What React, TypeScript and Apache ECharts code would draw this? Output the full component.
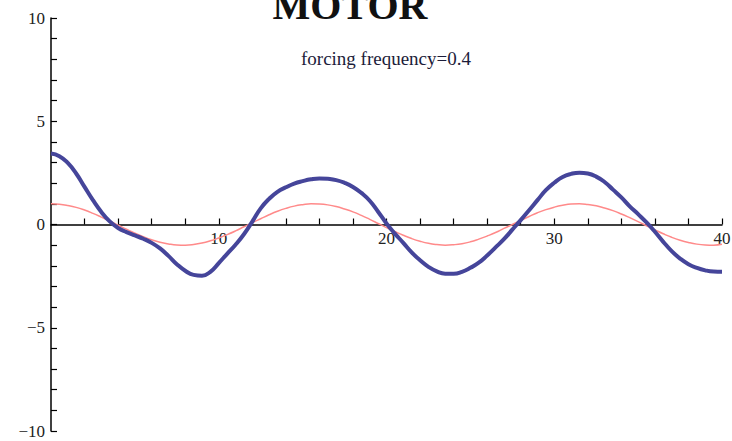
import React, { useEffect, useRef } from "react";
import * as echarts from "echarts";

const xValues = [0,0.5,1,1.5,2,2.5,3,3.5,4,4.5,5,5.5,6,6.5,7,7.5,8,8.5,9,9.5,10,10.5,11,11.5,12,12.5,13,13.5,14,14.5,15,15.5,16,16.5,17,17.5,18,18.5,19,19.5,20,20.5,21,21.5,22,22.5,23,23.5,24,24.5,25,25.5,26,26.5,27,27.5,28,28.5,29,29.5,30,30.5,31,31.5,32,32.5,33,33.5,34,34.5,35,35.5,36,36.5,37,37.5,38,38.5,39,39.5,40];
const motorResponse = [3.44,3.31,2.98,2.47,1.82,1.18,0.61,0.15,-0.17,-0.37,-0.53,-0.69,-0.89,-1.16,-1.52,-1.92,-2.24,-2.44,-2.48,-2.29,-1.87,-1.42,-0.98,-0.47,0.14,0.78,1.24,1.58,1.8,1.98,2.1,2.19,2.23,2.21,2.15,2.02,1.82,1.53,1.15,0.62,0.05,-0.44,-0.89,-1.35,-1.73,-2.05,-2.27,-2.38,-2.38,-2.29,-2.1,-1.85,-1.5,-1.11,-0.71,-0.25,0.21,0.69,1.18,1.66,2.02,2.3,2.45,2.51,2.47,2.32,2.06,1.69,1.31,0.88,0.5,0.1,-0.35,-0.84,-1.29,-1.65,-1.92,-2.1,-2.22,-2.28,-2.29];
const forcing = [1.0,0.98,0.92,0.83,0.7,0.54,0.36,0.17,-0.03,-0.23,-0.42,-0.59,-0.74,-0.86,-0.94,-0.99,-1.0,-0.97,-0.9,-0.79,-0.65,-0.49,-0.31,-0.11,0.09,0.28,0.47,0.64,0.78,0.89,0.96,1.0,0.99,0.95,0.87,0.75,0.61,0.44,0.25,0.05,-0.15,-0.34,-0.52,-0.68,-0.81,-0.91,-0.97,-1.0,-0.98,-0.93,-0.84,-0.71,-0.56,-0.39,-0.19,0.0,0.2,0.39,0.57,0.72,0.84,0.93,0.99,1.0,0.97,0.91,0.8,0.67,0.51,0.33,0.14,-0.06,-0.26,-0.45,-0.62,-0.76,-0.87,-0.95,-0.99,-1.0,-0.96];
const xTickLabels = ["10", "20", "30", "40"];
const yTickLabels = ["−10", "−5", "0", "5", "10"];
const titleText = "MOTOR";
const subtitleText = "forcing frequency=0.4";

export default function App() {
  const ref = useRef<HTMLDivElement>(null);
  useEffect(() => {
    if (!ref.current) return;
    const chart = echarts.init(ref.current, null, { renderer: "svg" });
    const serif = '"Liberation Serif", "DejaVu Serif", serif';
    chart.setOption({
      animation: false,
      backgroundColor: "#ffffff",
      grid: { left: 51, right: 10, top: 18, bottom: 10, containLabel: false, outerBoundsMode: "none" },
      xAxis: {
        type: "value",
        min: 0,
        max: 40,
        interval: 2,
        offset: -206.5,
        axisLine: { onZero: false, lineStyle: { color: "#000", width: 1.5 } },
        axisTick: { show: true, inside: true, length: 6, lineStyle: { color: "#000", width: 1.2 } },
        splitLine: { show: false },
        axisLabel: {
          color: "#222",
          fontFamily: serif,
          fontSize: 17,
          margin: 5,
          showMinLabel: false,
          formatter: (v: number) => {
            const s = String(Math.round(v));
            return xTickLabels.includes(s) ? s : "";
          },
        },
      },
      yAxis: {
        type: "value",
        min: -10,
        max: 10,
        interval: 1,
        axisLine: { show: true, onZero: false, lineStyle: { color: "#000", width: 1.5 } },
        axisTick: { show: true, inside: true, length: 6, lineStyle: { color: "#000", width: 1.2 } },
        splitLine: { show: false },
        axisLabel: {
          color: "#222",
          fontFamily: serif,
          fontSize: 17,
          margin: 6,
          formatter: (v: number) => {
            const r = Math.round(v);
            const s = r < 0 ? "−" + String(-r) : String(r);
            return yTickLabels.includes(s) ? s : "";
          },
        },
      },
      graphic: [
        {
          type: "text",
          x: 350,
          y: 25,
          style: {
            text: titleText,
            font: `bold 40px ${serif}`,
            fill: "#111",
            align: "center",
            verticalAlign: "bottom",
          },
        },
        {
          type: "text",
          x: 386,
          y: 58,
          style: {
            text: subtitleText,
            font: `19px ${serif}`,
            fill: "#1c1c3a",
            align: "center",
            verticalAlign: "middle",
          },
        },
      ],
      series: [
        {
          type: "line",
          data: xValues.map((x, i) => [x, forcing[i]]),
          smooth: true,
          showSymbol: false,
          lineStyle: { color: "#ff8a8a", width: 1.5 },
          z: 2,
        },
        {
          type: "line",
          data: xValues.map((x, i) => [x, motorResponse[i]]),
          smooth: true,
          showSymbol: false,
          lineStyle: { color: "#45459a", width: 4 },
          z: 3,
        },
      ],
    });
    return () => chart.dispose();
  }, []);
  return <div ref={ref} style={{ width: 732, height: 441, position: "absolute", left: 0, top: 0 }} />;
}
